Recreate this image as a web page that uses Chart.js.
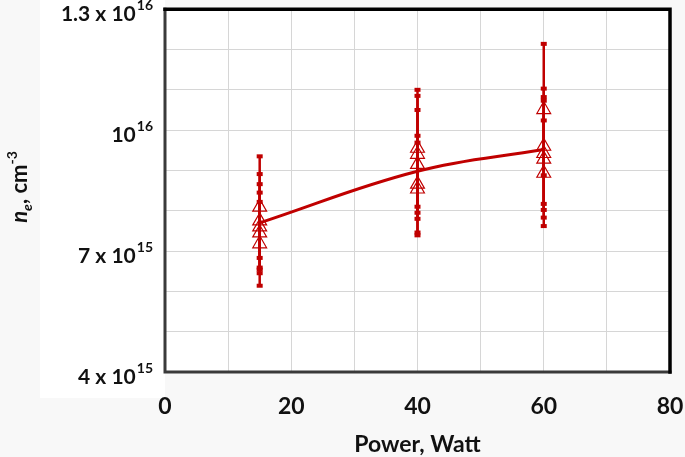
<!DOCTYPE html>
<html>
<head>
<meta charset="utf-8">
<script src="https://cdn.jsdelivr.net/npm/chart.js@4.4.0/dist/chart.umd.min.js"></script>
<style>
  html, body { margin: 0; padding: 0; background: #f8f8f8; }
  canvas { display: block; }
</style>
</head>
<body>
<canvas id="densityChart" width="685" height="457"></canvas>
<script>
// electron density (cm^-3) vs power, several measurements per power with error bars
const powers = [15, 40, 60];
const density15 = [8.09e15, 7.75e15, 7.60e15, 7.45e15, 7.18e15];
const error15 = [1.26e15, 1.16e15, 1.06e15, 1.00e15, 1.04e15];
const density40 = [9.55e15, 9.40e15, 9.15e15, 8.66e15, 8.54e15];
const error40 = [1.45e15, 1.45e15, 1.35e15, 1.20e15, 1.15e15];
const density60 = [10.51e15, 9.60e15, 9.42e15, 9.28e15, 8.93e15];
const error60 = [1.63e15, 1.43e15, 1.40e15, 1.45e15, 1.31e15];

// trend curve
const fitPower = [15, 40, 60];
const fitDensity = [7.70e15, 8.98e15, 9.52e15];

// tick labels
const xTicks = [0, 20, 40, 60, 80];
const yTickValues = [4e15, 7e15, 1e16, 1.3e16];
const yTickBase = ['4 x 10', '7 x 10', '10', '1.3 x 10'];
const yTickExp = ['15', '15', '16', '16'];

const RED = '#c00000';
const FONT = 'Lato, "Open Sans", sans-serif';

const measured = [density15, density40, density60];
const errors = [error15, error40, error60];

// white panels behind labels and plot
const panels = {
    id: 'panels',
    beforeDraw(chart) {
        const { ctx, chartArea: a } = chart;
        ctx.save();
        ctx.fillStyle = '#f8f8f8';
        ctx.fillRect(0, 0, chart.width, chart.height);
        ctx.fillStyle = '#ffffff';
        ctx.fillRect(40, 0, a.left - 40, 398);
        ctx.fillRect(a.left, a.top, a.right - a.left, a.bottom - a.top);
        ctx.restore();
    }
};

// vertical error bars with small caps
const errorBars = {
    id: 'errorBars',
    beforeDatasetsDraw(chart) {
        const { ctx, scales: { x, y } } = chart;
        ctx.save();
        ctx.strokeStyle = RED;
        ctx.fillStyle = RED;
        ctx.lineWidth = 2.5;
        chart.data.datasets.forEach(ds => {
            if (!ds.errors) return;
            ds.data.forEach((p, i) => {
                const px = x.getPixelForValue(p.x);
                const top = y.getPixelForValue(p.y + ds.errors[i]);
                const bot = y.getPixelForValue(p.y - ds.errors[i]);
                ctx.beginPath();
                ctx.moveTo(px, top);
                ctx.lineTo(px, bot);
                ctx.stroke();
                ctx.fillRect(px - 3, top - 2, 6, 4);
                ctx.fillRect(px - 3, bot - 2, 6, 4);
            });
        });
        ctx.restore();
    }
};

// frame, y tick labels with exponents, y title with sub/superscript
const decorations = {
    id: 'decorations',
    afterDraw(chart) {
        const { ctx, chartArea: a, scales: { y } } = chart;
        ctx.save();

        ctx.lineCap = 'square';
        ctx.strokeStyle = '#3a3a3a';
        ctx.lineWidth = 3;
        ctx.beginPath();
        ctx.moveTo(a.left, a.top);
        ctx.lineTo(a.left, a.bottom);
        ctx.lineTo(a.right, a.bottom);
        ctx.stroke();
        ctx.strokeStyle = '#000';
        ctx.lineWidth = 3.5;
        ctx.beginPath();
        ctx.moveTo(a.left, a.top);
        ctx.lineTo(a.right, a.top);
        ctx.lineTo(a.right, a.bottom);
        ctx.stroke();

        ctx.fillStyle = '#111';
        ctx.textAlign = 'right';
        ctx.textBaseline = 'middle';
        const labelRight = a.left - 12;
        yTickValues.forEach((v, i) => {
            const py = y.getPixelForValue(v) + 5;
            ctx.font = 'bold 14px ' + FONT;
            const ew = ctx.measureText(yTickExp[i]).width;
            ctx.fillText(yTickExp[i], labelRight, py - 9);
            ctx.font = 'bold 21px ' + FONT;
            ctx.fillText(yTickBase[i], labelRight - ew - 1, py);
        });

        const parts = [
            { t: 'n', f: 'italic bold 22px ', dy: 0 },
            { t: 'e', f: 'italic bold 14px ', dy: 5 },
            { t: ', cm', f: 'bold 22px ', dy: 0 },
            { t: '-3', f: 'bold 14px ', dy: -10 }
        ];
        let total = 0;
        parts.forEach(p => { ctx.font = p.f + FONT; p.w = ctx.measureText(p.t).width; total += p.w; });
        ctx.translate(27, 187 + total / 2);
        ctx.rotate(-Math.PI / 2);
        ctx.textAlign = 'left';
        ctx.textBaseline = 'alphabetic';
        let cx = 0;
        parts.forEach(p => {
            ctx.font = p.f + FONT;
            ctx.fillText(p.t, cx, p.dy);
            cx += p.w;
        });
        ctx.restore();
    }
};

const datasets = [{
    label: 'Trend',
    data: fitPower.map((p, i) => ({ x: p, y: fitDensity[i] })),
    showLine: true,
    borderColor: RED,
    borderWidth: 3,
    pointRadius: 0,
    tension: 0.4
}];

powers.forEach((p, k) => {
    datasets.push({
        label: p + ' W',
        data: measured[k].map(v => ({ x: p, y: v })),
        errors: errors[k],
        pointStyle: 'triangle',
        pointRadius: 8,
        borderWidth: 1.2,
        borderColor: RED,
        backgroundColor: 'rgba(0,0,0,0)'
    });
});

new Chart(document.getElementById('densityChart'), {
    type: 'scatter',
    data: { datasets },
    plugins: [panels, errorBars, decorations],
    options: {
        responsive: false,
        animation: false,
        layout: { padding: { top: 7, right: 0, left: 0, bottom: 0 } },
        plugins: {
            legend: { display: false },
            tooltip: { enabled: false }
        },
        scales: {
            x: {
                type: 'linear',
                min: 0,
                max: 80,
                afterFit: s => {
                    s.height = 85;
                    s.paddingLeft = 0;
                    s.paddingRight = 15;
                },
                ticks: {
                    stepSize: 10,
                    autoSkip: false,
                    maxRotation: 0,
                    padding: 21,
                    color: '#111',
                    font: { family: FONT, weight: 'bold', size: 23 },
                    callback: v => xTicks.includes(v) ? String(v) : ''
                },
                grid: { color: '#d6d6d6', drawTicks: false },
                border: { display: false },
                title: {
                    display: true,
                    text: 'Power, Watt',
                    color: '#111',
                    font: { family: FONT, weight: 'bold', size: 23 },
                    padding: { top: 0, bottom: -1 }
                }
            },
            y: {
                type: 'linear',
                min: 4e15,
                max: 1.3e16,
                afterFit: s => { s.width = 165; },
                ticks: { stepSize: 1e15, display: false },
                grid: { color: '#d6d6d6', drawTicks: false },
                border: { display: false }
            }
        }
    }
});
</script>
</body>
</html>
